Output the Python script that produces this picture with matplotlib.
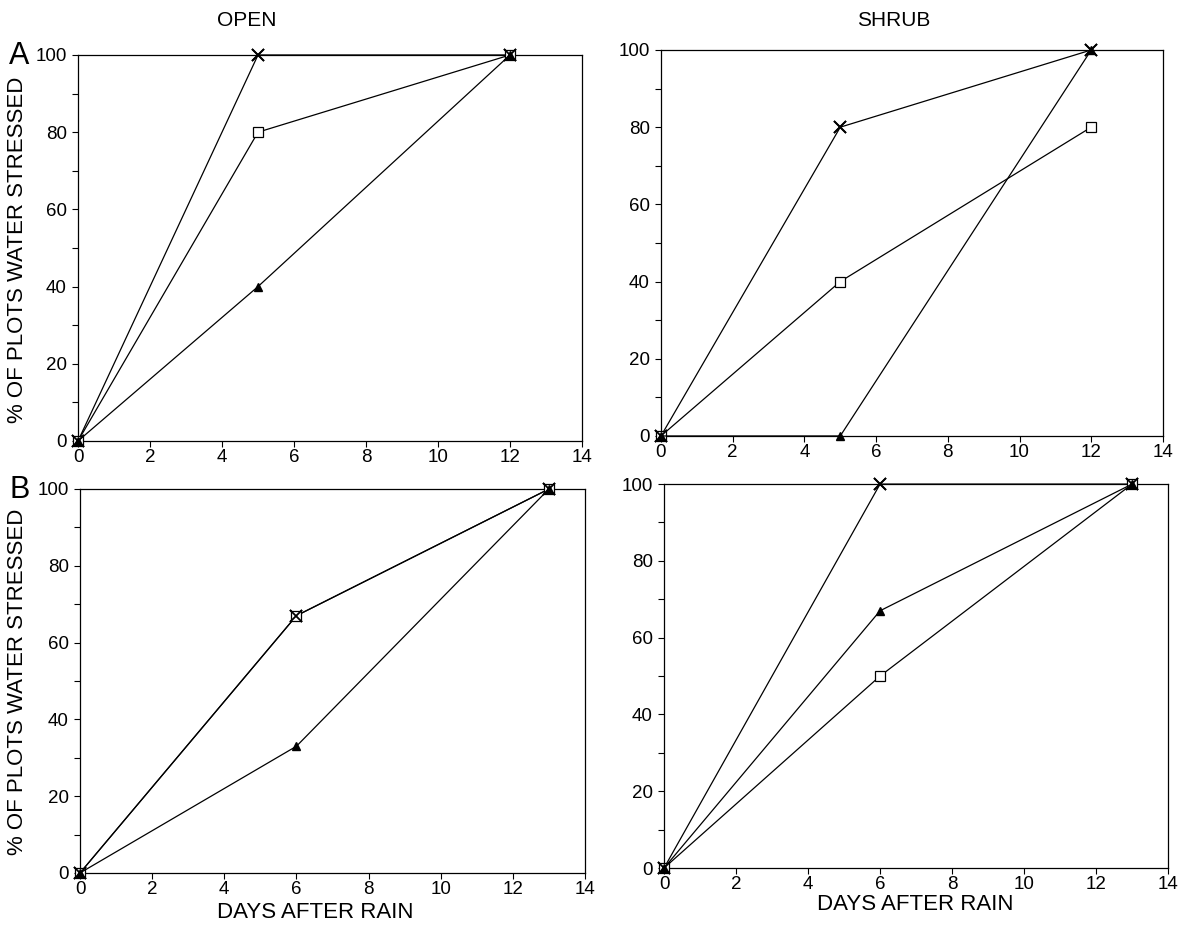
import matplotlib.pyplot as plt

plt.rcParams['font.family'] = ['Liberation Sans', 'DejaVu Sans']

# Данные: дни после дождя и % участков в водном стрессе
DAYS_A = [0, 5, 12]
DAYS_B = [0, 6, 13]

OPEN_A_CROSS = [0, 100, 100]
OPEN_A_SQUARE = [0, 80, 100]
OPEN_A_TRIANGLE = [0, 40, 100]

SHRUB_A_CROSS = [0, 80, 100]
SHRUB_A_SQUARE = [0, 40, 80]
SHRUB_A_TRIANGLE = [0, 0, 100]

OPEN_B_CROSS = [0, 67, 100]
OPEN_B_SQUARE = [0, 67, 100]
OPEN_B_TRIANGLE = [0, 33, 100]

SHRUB_B_CROSS = [0, 100, 100]
SHRUB_B_SQUARE = [0, 50, 100]
SHRUB_B_TRIANGLE = [0, 67, 100]

X_TICKS = [0, 2, 4, 6, 8, 10, 12, 14]
Y_TICKS = [0, 20, 40, 60, 80, 100]


def draw_panel(ax, days, cross, square, triangle):
    ax.plot(days, cross, color='black', lw=0.9, marker='x', ms=8,
            mew=1.3, clip_on=False, zorder=3)
    ax.plot(days, square, color='black', lw=0.9, marker='s', ms=7,
            mfc='white', mew=0.9, clip_on=False, zorder=3)
    ax.plot(days, triangle, color='black', lw=0.9, marker='^', ms=6,
            clip_on=False, zorder=3)
    # крестик поверх квадрата
    ax.plot(days, cross, ls='none', marker='x', ms=8, mew=1.3,
            color='black', clip_on=False, zorder=4)

    ax.set_xlim(0, 14)
    ax.set_ylim(0, 100)
    ax.set_xticks(X_TICKS)
    ax.set_yticks(Y_TICKS)
    ax.set_yticks(range(10, 100, 20), minor=True)
    ax.tick_params(direction='out', length=4, width=0.8, labelsize=13.5)
    ax.tick_params(axis='y', pad=4)
    ax.tick_params(axis='x', pad=2)
    ax.tick_params(which='minor', direction='out', length=4, width=0.8)
    for s in ax.spines.values():
        s.set_linewidth(0.9)


fig = plt.figure(figsize=(11.82, 9.27), dpi=100)

ax_tl = fig.add_axes([0.066, 0.5243, 0.4264, 0.4164])
ax_tr = fig.add_axes([0.5592, 0.5297, 0.4247, 0.4164])
ax_bl = fig.add_axes([0.0677, 0.0583, 0.4272, 0.4142])
ax_br = fig.add_axes([0.5618, 0.0636, 0.4264, 0.4142])

draw_panel(ax_tl, DAYS_A, OPEN_A_CROSS, OPEN_A_SQUARE, OPEN_A_TRIANGLE)
draw_panel(ax_tr, DAYS_A, SHRUB_A_CROSS, SHRUB_A_SQUARE, SHRUB_A_TRIANGLE)
draw_panel(ax_bl, DAYS_B, OPEN_B_CROSS, OPEN_B_SQUARE, OPEN_B_TRIANGLE)
draw_panel(ax_br, DAYS_B, SHRUB_B_CROSS, SHRUB_B_SQUARE, SHRUB_B_TRIANGLE)

fig.text(0.209, 0.978, 'OPEN', ha='center', va='center', fontsize=15)
fig.text(0.756, 0.978, 'SHRUB', ha='center', va='center', fontsize=15)

fig.text(0.016, 0.940, 'A', ha='center', va='center', fontsize=22)
fig.text(0.017, 0.471, 'B', ha='center', va='center', fontsize=22)

fig.text(0.015, 0.731, '% OF PLOTS WATER STRESSED', rotation=90,
         ha='center', va='center', fontsize=16)
fig.text(0.015, 0.264, '% OF PLOTS WATER STRESSED', rotation=90,
         ha='center', va='center', fontsize=16)

fig.text(0.2665, 0.016, 'DAYS AFTER RAIN', ha='center', va='center', fontsize=16)
fig.text(0.774, 0.024, 'DAYS AFTER RAIN', ha='center', va='center', fontsize=16)

fig.savefig('out.png', dpi=100)
